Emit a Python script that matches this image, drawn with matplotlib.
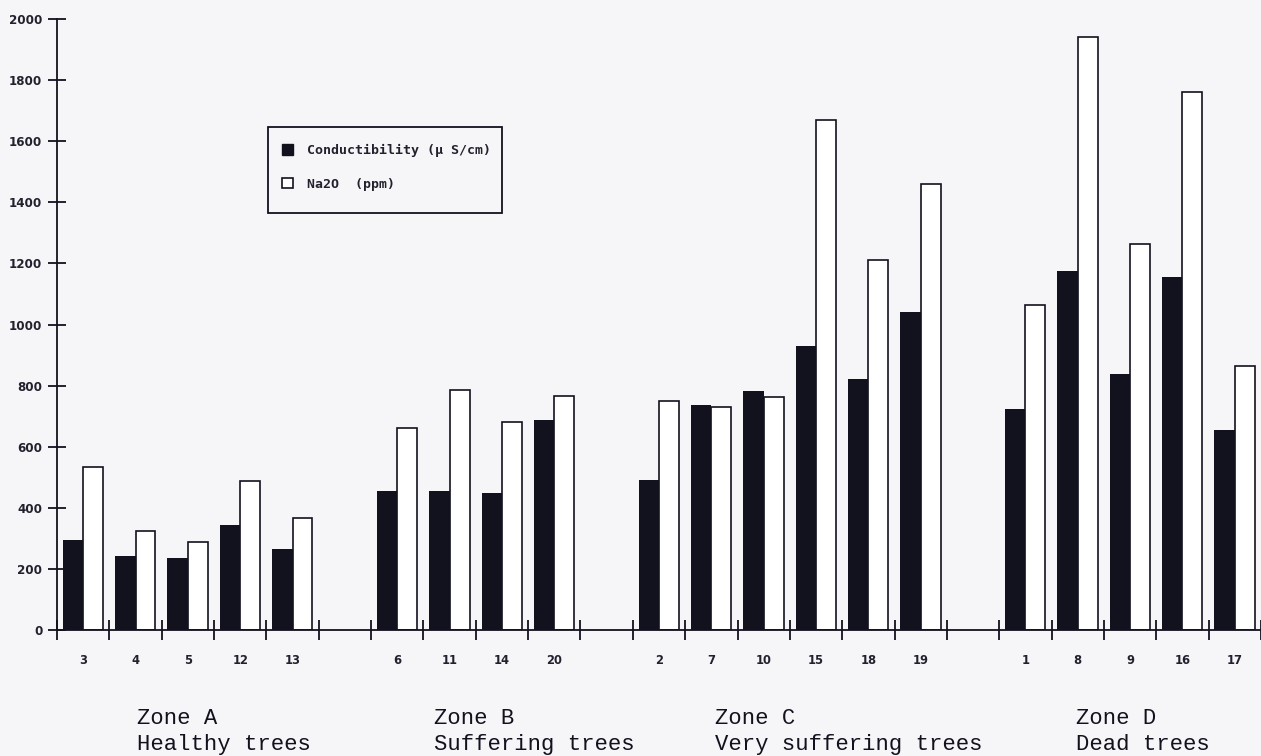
import numpy as np
import matplotlib
matplotlib.use("Agg")
import matplotlib.pyplot as plt
import matplotlib.transforms as mtransforms
from matplotlib.patches import Patch, Rectangle

# data
zone_names = ["Zone A\nHealthy trees", "Zone B\nSuffering trees",
              "Zone C\nVery suffering trees", "Zone D\nDead trees"]
trees_a = ["3", "4", "5", "12", "13"]
trees_b = ["6", "11", "14", "20"]
trees_c = ["2", "7", "10", "15", "18", "19"]
trees_d = ["1", "8", "9", "16", "17"]

cond_a = [295, 242, 237, 344, 266]
cond_b = [456, 455, 448, 687]
cond_c = [490, 735, 783, 930, 823, 1040]
cond_d = [722, 1176, 839, 1157, 654]

na2o_a = [532, 325, 289, 488, 366]
na2o_b = [662, 786, 680, 767]
na2o_c = [748, 729, 764, 1671, 1212, 1460]
na2o_d = [1063, 1941, 1263, 1762, 863]

trees = [trees_a, trees_b, trees_c, trees_d]
cond = [cond_a, cond_b, cond_c, cond_d]
na2o = [na2o_a, na2o_b, na2o_c, na2o_d]

# layout
DARK = "#12121f"
TXT = "#22222e"
BG = "#f6f6f8"
W, H = 1261, 756
zone_label_x = [1.02, 6.71, 12.07, 18.97]

# one empty slot between zones
pos, labels, c_vals, n_vals = [], [], [], []
start = 0
for t, c, n in zip(trees, cond, na2o):
    pos += list(range(start, start + len(t)))
    labels += t
    c_vals += c
    n_vals += n
    start += len(t) + 1
pos = np.array(pos)

fig = plt.figure(figsize=(W / 100, H / 100), dpi=100)
fig.patch.set_facecolor(BG)
ax = fig.add_axes([57 / W, 126 / H, 1 - 57 / W, 611 / H])
ax.set_facecolor(BG)

ax.bar(pos, c_vals, width=-0.39, align="edge", color=DARK, zorder=2)
ax.bar(pos, n_vals, width=0.38, align="edge", facecolor="white",
       edgecolor=DARK, linewidth=1.2, zorder=2)

ax.set_xlim(-0.5, -0.5 + (W - 57) / 52.6)
ax.set_ylim(0, 2000)

for s in ["top", "right"]:
    ax.spines[s].set_visible(False)
for s in ["left", "bottom"]:
    ax.spines[s].set_color(DARK)
    ax.spines[s].set_linewidth(1.3)

boundaries = np.arange(-0.5, pos.max() + 1.0, 1.0)
ax.set_xticks(boundaries)
ax.set_xticks(pos, labels, minor=True)
ax.tick_params(axis="x", which="major", direction="inout", length=14,
               width=1.3, color=DARK, labelbottom=False)
ax.tick_params(axis="x", which="minor", length=0, pad=17.5)
for lab in ax.get_xticklabels(minor=True):
    lab.set_fontsize(8.3)
    lab.set_fontweight("bold")
    lab.set_color(TXT)

ax.set_yticks(range(0, 2001, 200))
ax.tick_params(axis="y", direction="inout", length=13, width=1.3,
               color=DARK, pad=4, labelsize=8.6, labelcolor=TXT)
for lab in ax.get_yticklabels():
    lab.set_fontweight("bold")

# zone captions under the axis, one text per line
trans = mtransforms.blended_transform_factory(ax.transData, fig.transFigure)
for x, name in zip(zone_label_x, zone_names):
    for i, line in enumerate(name.split("\n")):
        ax.text(x, 1 - (724 + 26 * i) / H, line, transform=trans,
                ha="left", va="baseline", family="Liberation Mono",
                fontsize=16, color=DARK)

# legend with a hand drawn frame
handles = [Patch(facecolor=DARK, edgecolor=DARK),
           Patch(facecolor="white", edgecolor=DARK, linewidth=1.2)]
ax.legend(handles, ["Conductibility (\u00b5 S/cm)", "Na2O  (ppm)"],
          loc="upper left", bbox_to_anchor=(282 / W, 1 - 144 / H),
          bbox_transform=fig.transFigure, frameon=False, borderpad=0,
          borderaxespad=0, handlelength=0.83, handleheight=0.83,
          handletextpad=1.05, labelspacing=1.55,
          prop=dict(family="DejaVu Sans Mono", size=9.5, weight="bold"),
          labelcolor=TXT)
fig.add_artist(Rectangle((268 / W, 1 - 213 / H), 234 / W, 86 / H,
                         transform=fig.transFigure, fill=False,
                         edgecolor=DARK, linewidth=1.3))

fig.savefig("out.png", dpi=100, facecolor=BG)
